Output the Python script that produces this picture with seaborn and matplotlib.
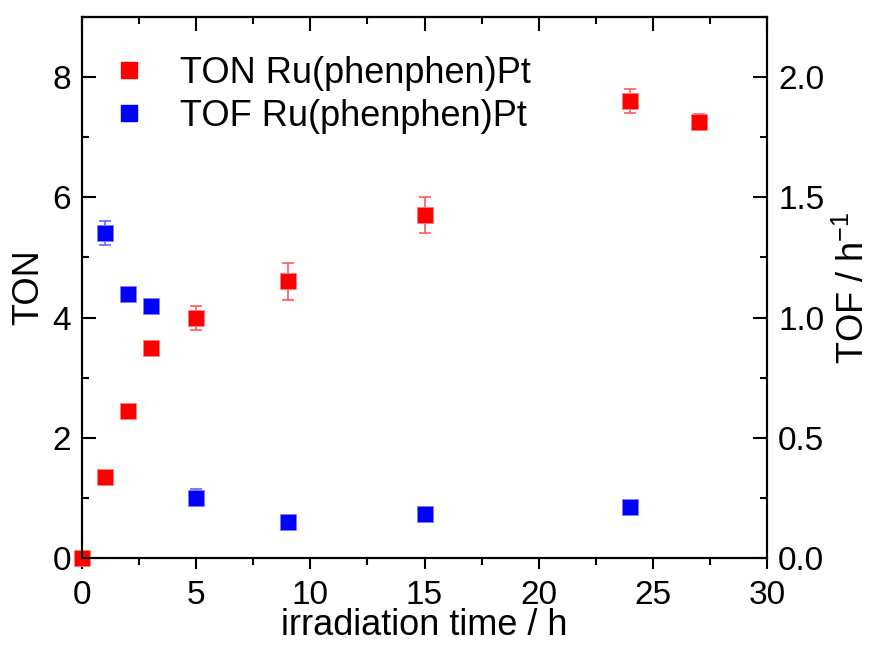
import matplotlib
matplotlib.use("Agg")
import matplotlib.pyplot as plt
import seaborn as sns
import pandas as pd
import numpy as np
from matplotlib.ticker import MultipleLocator
from matplotlib.lines import Line2D

# data
ton_time = [0, 1, 2, 3, 5, 9, 15, 24, 27]
ton_vals = [0.0, 1.35, 2.45, 3.5, 4.0, 4.6, 5.7, 7.6, 7.25]
ton_err = [0.0, 0.0, 0.0, 0.0, 0.2, 0.3, 0.3, 0.2, 0.13]

tof_time = [1, 2, 3, 5, 9, 15, 24]
tof_vals = [1.35, 1.10, 1.05, 0.25, 0.15, 0.183, 0.212]
tof_err = [0.05, 0.0, 0.0, 0.035, 0.0, 0.0, 0.0]

ton_label = "TON Ru(phenphen)Pt"
tof_label = "TOF Ru(phenphen)Pt"

sns.set_style("ticks")
plt.rcParams['font.family'] = ['Liberation Sans', 'DejaVu Sans']
plt.rcParams['mathtext.fontset'] = 'custom'
plt.rcParams['mathtext.rm'] = 'Liberation Sans'
plt.rcParams['text.color'] = 'black'
plt.rcParams['axes.labelcolor'] = 'black'
plt.rcParams['xtick.color'] = 'black'
plt.rcParams['ytick.color'] = 'black'

df_ton = pd.DataFrame({"t": ton_time, "v": ton_vals, "e": ton_err})
df_tof = pd.DataFrame({"t": tof_time, "v": tof_vals, "e": tof_err})

fig = plt.figure(figsize=(8.72, 6.48), dpi=100)
ax = fig.add_axes([82/872, 1-558/648, (767-82)/872, (558-17)/648])
ax2 = ax.twinx()

red = "#ff0000"
blue = "#0000ff"
ms = 11

# error bars
ax.errorbar(df_ton["t"], df_ton["v"], yerr=df_ton["e"], fmt="none",
            ecolor=(1, 0.35, 0.35), elinewidth=1.2, capsize=4.5, capthick=1.2, zorder=2)
ax2.errorbar(df_tof["t"], df_tof["v"], yerr=df_tof["e"], fmt="none",
             ecolor=(0.4, 0.4, 1), elinewidth=1.2, capsize=4.5, capthick=1.2, zorder=2)

sns.scatterplot(data=df_ton, x="t", y="v", ax=ax, marker="s", s=ms**2,
                color=red, edgecolor=(1, 0.5, 0.5), linewidth=0.6, zorder=3, legend=False, clip_on=False)
sns.scatterplot(data=df_tof, x="t", y="v", ax=ax2, marker="s", s=ms**2,
                color=blue, edgecolor=(0.5, 0.5, 1), linewidth=0.6, zorder=3, legend=False, clip_on=False)

ax.set_xlim(0, 30)
ax.set_ylim(0, 9)
ax2.set_ylim(0, 2.25)

ax.xaxis.set_major_locator(MultipleLocator(5))
ax.xaxis.set_minor_locator(MultipleLocator(2.5))
ax.yaxis.set_major_locator(MultipleLocator(2))
ax.yaxis.set_minor_locator(MultipleLocator(1))
ax2.yaxis.set_major_locator(MultipleLocator(0.5))
ax2.yaxis.set_minor_locator(MultipleLocator(0.25))
ax2.yaxis.set_major_formatter(matplotlib.ticker.FormatStrFormatter('%.1f'))

fs = 24
ax.tick_params(axis='x', which='both', direction='out', labelsize=fs, width=1.5, top=False, pad=8)
ax.tick_params(axis='x', which='major', length=8)
ax.tick_params(axis='x', which='minor', length=5)
ax.tick_params(axis='y', which='both', direction='in', labelsize=fs, width=1.5, pad=8)
ax.tick_params(axis='y', which='major', length=10)
ax.tick_params(axis='y', which='minor', length=5)
ax2.tick_params(axis='y', which='both', direction='in', labelsize=fs, width=1.5, pad=8)
ax2.tick_params(axis='y', which='major', length=10)
ax2.tick_params(axis='y', which='minor', length=5)

# top ticks inward via secondary x axis
secx = ax.secondary_xaxis('top')
secx.xaxis.set_major_locator(MultipleLocator(5))
secx.xaxis.set_minor_locator(MultipleLocator(2.5))
secx.tick_params(axis='x', which='both', direction='in', labeltop=False, width=1.5)
secx.tick_params(axis='x', which='major', length=10)
secx.tick_params(axis='x', which='minor', length=5)
secx.spines['top'].set_linewidth(1.5)

for a in (ax, ax2):
    for sp in a.spines.values():
        sp.set_linewidth(1.5)
        sp.set_color('black')

lfs = 26
ax.set_xlabel("irradiation time / h", fontsize=lfs, labelpad=-2)
ax.set_ylabel("TON", fontsize=lfs, labelpad=4)
ax2.set_ylabel(r"TOF / h$^{-1}$", fontsize=lfs, labelpad=8)

handles = [
    Line2D([], [], marker='s', linestyle='none', color=red, markersize=ms, label=ton_label),
    Line2D([], [], marker='s', linestyle='none', color=blue, markersize=ms, label=tof_label),
]
ax.legend(handles=handles, loc='upper left', frameon=False, fontsize=lfs,
          handletextpad=0.8, borderaxespad=0.3, labelspacing=0.22, handlelength=1.2,
          bbox_to_anchor=(0.0, 0.975))

fig.savefig("out.png", dpi=100)
